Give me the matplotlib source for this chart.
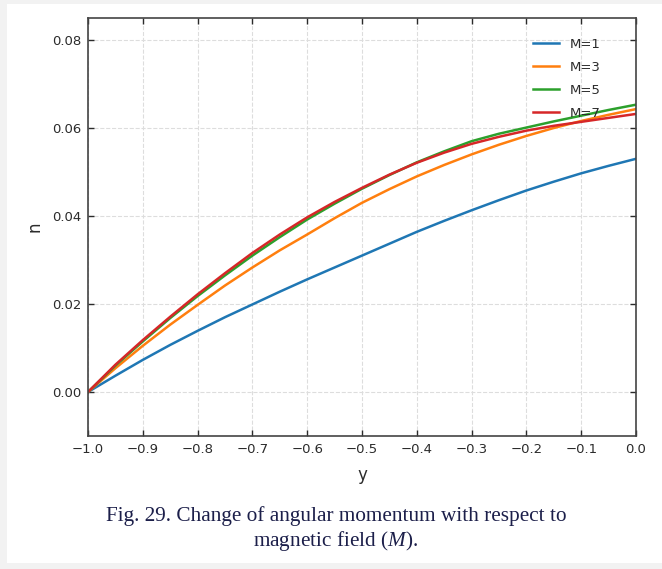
import numpy as np
import matplotlib.pyplot as plt
from matplotlib.patches import Rectangle

# values
y_vals = [-1.0, -0.95, -0.9, -0.85, -0.8, -0.75, -0.7, -0.65, -0.6, -0.55, -0.5,
          -0.45, -0.4, -0.35, -0.3, -0.25, -0.2, -0.15, -0.1, -0.05, 0.0]
n_m1 = [0, 0.0037, 0.0073, 0.0107, 0.0139, 0.0170, 0.0199, 0.0228, 0.0256, 0.0283, 0.0310,
        0.0337, 0.0364, 0.0389, 0.0413, 0.0436, 0.0458, 0.0478, 0.0497, 0.0514, 0.0530]
n_m3 = [0, 0.0054, 0.0105, 0.0153, 0.0198, 0.0242, 0.0283, 0.0322, 0.0358, 0.0395, 0.0430,
        0.0461, 0.0490, 0.0516, 0.0540, 0.0562, 0.0582, 0.0600, 0.0616, 0.0630, 0.0643]
n_m5 = [0, 0.0060, 0.0115, 0.0168, 0.0218, 0.0265, 0.0310, 0.0352, 0.0392, 0.0428, 0.0462,
        0.0493, 0.0522, 0.0547, 0.0570, 0.0587, 0.0601, 0.0615, 0.0628, 0.0641, 0.0653]
n_m7 = [0, 0.0062, 0.0118, 0.0171, 0.0222, 0.0270, 0.0316, 0.0358, 0.0397, 0.0432, 0.0464,
        0.0494, 0.0521, 0.0544, 0.0564, 0.0580, 0.0594, 0.0605, 0.0614, 0.0623, 0.0632]
labels = ['M=1', 'M=3', 'M=5', 'M=7']
colors = ['#1f77b4', '#ff7f0e', '#2ca02c', '#d62728']
xticks = [-1.0, -0.9, -0.8, -0.7, -0.6, -0.5, -0.4, -0.3, -0.2, -0.1, 0.0]
yticks = [0.0, 0.02, 0.04, 0.06, 0.08]

plt.rcParams['font.family'] = 'DejaVu Sans'
plt.rcParams['mathtext.fontset'] = 'custom'
plt.rcParams['mathtext.rm'] = 'Liberation Serif'
plt.rcParams['mathtext.it'] = 'Liberation Serif:italic'

fig = plt.figure(figsize=(6.62, 5.69), dpi=100, facecolor='#f2f2f2')
# white page panel behind everything
fig.patches.append(Rectangle((7 / 662, 1 - 563 / 569), 655 / 662, 559 / 569,
                             transform=fig.transFigure, facecolor='white',
                             edgecolor='none', zorder=-1))

ax = fig.add_axes([88 / 662, 1 - 436 / 569, 548 / 662, 418 / 569])
ax.set_zorder(2)
for vals, lab, c in zip([n_m1, n_m3, n_m5, n_m7], labels, colors):
    ax.plot(y_vals, vals, color=c, lw=1.8, label=lab)

ax.set_xlim(-1.0, 0.0)
ax.set_ylim(-0.01, 0.085)
ax.set_xticks(xticks)
ax.set_yticks(yticks)
ax.tick_params(direction='in', top=True, right=True, length=4, width=1,
               labelsize=9.5, colors='#2b2b2b', pad=5)
ax.grid(True, linestyle='--', color='#dddddd', lw=0.8)
for s in ax.spines.values():
    s.set_color('#444444')
    s.set_linewidth(1.2)

ax.set_xlabel('y', fontsize=12, color='#2b2b2b', labelpad=7)
ax.set_ylabel('n', fontsize=12, color='#2b2b2b', labelpad=6)
ax.legend(loc='upper right', bbox_to_anchor=(0.945, 0.965), frameon=False,
          fontsize=9.5, handlelength=2.0, borderaxespad=0, labelspacing=0.75,
          labelcolor='#2b2b2b')

cap_color = '#1c1f4a'
fig.text(336 / 662, 1 - 516 / 569, 'Fig. 29. Change of angular momentum with respect to',
         ha='center', va='center', fontsize=15.3, family='Liberation Serif', color=cap_color)
fig.text(336 / 662, 1 - 541 / 569, r'magnetic field ($\mathit{M}$).',
         ha='center', va='center', fontsize=15.3, family='Liberation Serif', color=cap_color)

fig.savefig('out.png', dpi=100, facecolor=fig.get_facecolor())
